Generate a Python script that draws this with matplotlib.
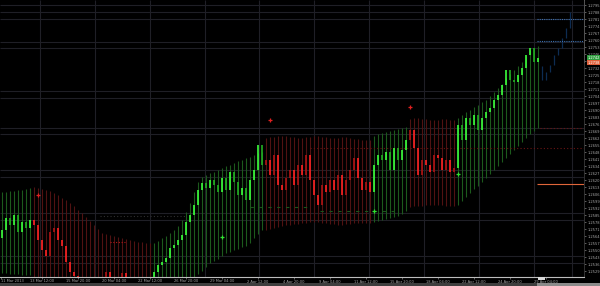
import numpy as np
import matplotlib.pyplot as plt
from matplotlib.patches import Rectangle

# closing prices, one per bar
closes = [
    1.2570, 1.2582, 1.2575, 1.2585, 1.2568, 1.2578, 1.2572, 1.2580,
    1.2575, 1.2560, 1.2550, 1.2544, 1.2568, 1.2572, 1.2560, 1.2554, 1.2538, 1.2528,
    1.2524, 1.2520, 1.2515, 1.2510, 1.2512, 1.2508, 1.2515, 1.2510, 1.2528, 1.2522,
    1.2512, 1.2518, 1.2527, 1.2520, 1.2510, 1.2505, 1.2510, 1.2505, 1.2512, 1.2520,
    1.2528, 1.2535, 1.2538, 1.2542, 1.2552, 1.2555, 1.2560, 1.2565, 1.2578, 1.2585,
    1.2595, 1.2610, 1.2617, 1.2612, 1.2620, 1.2615, 1.2608, 1.2622, 1.2610, 1.2628,
    1.2618, 1.2605, 1.2612, 1.2600, 1.2620, 1.2630, 1.2655, 1.2635,
    1.2640, 1.2625, 1.2645, 1.2615, 1.2610, 1.2622, 1.2630, 1.2615, 1.2635, 1.2625,
    1.2645, 1.2620, 1.2605, 1.2595, 1.2615, 1.2608, 1.2620, 1.2610, 1.2625, 1.2605,
    1.2620, 1.2630, 1.2642, 1.2622, 1.2610, 1.2618, 1.2608,
    1.2635, 1.2645, 1.2640, 1.2648, 1.2630, 1.2652, 1.2640, 1.2650, 1.2660,
    1.2670, 1.2652, 1.2625, 1.2640, 1.2635, 1.2628, 1.2645, 1.2642, 1.2630, 1.2640,
    1.2628, 1.2632,
    1.2675, 1.2660, 1.2682, 1.2675, 1.2685, 1.2670, 1.2682, 1.2688, 1.2692, 1.2700,
    1.2705, 1.2715, 1.2730, 1.2720, 1.2718, 1.2725, 1.2732, 1.2745, 1.2752, 1.2738,
    1.2742,
]
first_open = 1.2562

# trend channel, upper and lower edge per bar
band_top = [
    1.2608, 1.2608, 1.2609, 1.2609, 1.2610, 1.2610, 1.2611, 1.2612,
    1.2613, 1.2612, 1.2611, 1.2610, 1.2609, 1.2607, 1.2605, 1.2602, 1.2600, 1.2597,
    1.2594, 1.2590, 1.2587, 1.2583, 1.2579, 1.2575, 1.2571, 1.2567, 1.2566, 1.2565,
    1.2564, 1.2563, 1.2562, 1.2561, 1.2560, 1.2559, 1.2558, 1.2558, 1.2557, 1.2557,
    1.2557, 1.2559, 1.2562, 1.2564, 1.2567, 1.2570, 1.2574, 1.2580, 1.2588, 1.2597,
    1.2608, 1.2618, 1.2623, 1.2625, 1.2627, 1.2628, 1.2630, 1.2632, 1.2634, 1.2635,
    1.2637, 1.2639, 1.2640, 1.2642, 1.2643, 1.2645, 1.2647, 1.2648,
    1.2662, 1.2663, 1.2663, 1.2664, 1.2664, 1.2664, 1.2663, 1.2663, 1.2662, 1.2662,
    1.2663, 1.2663, 1.2664, 1.2664, 1.2663, 1.2663, 1.2662, 1.2662, 1.2662, 1.2663,
    1.2663, 1.2662, 1.2661, 1.2661, 1.2660, 1.2660, 1.2660,
    1.2664, 1.2666, 1.2667, 1.2668, 1.2669, 1.2670, 1.2671, 1.2672, 1.2673,
    1.2681, 1.2682, 1.2682, 1.2681, 1.2681, 1.2680, 1.2680, 1.2680, 1.2681, 1.2681,
    1.2680, 1.2680,
    1.2682, 1.2685, 1.2688, 1.2690, 1.2693, 1.2695, 1.2698, 1.2700, 1.2704, 1.2708,
    1.2712, 1.2716, 1.2722, 1.2726, 1.2730, 1.2734, 1.2738, 1.2744, 1.2750, 1.2752,
    1.2754,
]
band_bottom = [
    1.2527, 1.2527, 1.2526, 1.2526, 1.2526, 1.2525, 1.2525, 1.2525,
    1.2480, 1.2480, 1.2480, 1.2480, 1.2480, 1.2480, 1.2480, 1.2480, 1.2480, 1.2480,
    1.2480, 1.2480, 1.2480, 1.2480, 1.2480, 1.2480, 1.2480, 1.2480, 1.2480, 1.2480,
    1.2480, 1.2480, 1.2480, 1.2480, 1.2480, 1.2480, 1.2480, 1.2480, 1.2480, 1.2480,
    1.2500, 1.2502, 1.2505, 1.2508, 1.2510, 1.2513, 1.2515, 1.2517, 1.2519, 1.2521,
    1.2523, 1.2526, 1.2529, 1.2533, 1.2537, 1.2539, 1.2541, 1.2544, 1.2547, 1.2548,
    1.2550, 1.2551, 1.2553, 1.2554, 1.2557, 1.2562, 1.2566, 1.2570,
    1.2570, 1.2571, 1.2572, 1.2573, 1.2574, 1.2575, 1.2575, 1.2576, 1.2576, 1.2577,
    1.2577, 1.2578, 1.2578, 1.2578, 1.2577, 1.2577, 1.2576, 1.2576, 1.2575, 1.2575,
    1.2576, 1.2576, 1.2577, 1.2577, 1.2577, 1.2577, 1.2577,
    1.2578, 1.2579, 1.2580, 1.2581, 1.2582, 1.2583, 1.2584, 1.2586, 1.2589,
    1.2593, 1.2594, 1.2594, 1.2594, 1.2595, 1.2595, 1.2595, 1.2595, 1.2595, 1.2594,
    1.2594, 1.2594,
    1.2595, 1.2599, 1.2603, 1.2607, 1.2611, 1.2614, 1.2618, 1.2622, 1.2626, 1.2630,
    1.2634, 1.2638, 1.2642, 1.2646, 1.2650, 1.2654, 1.2658, 1.2662, 1.2666, 1.2669,
    1.2672,
]
# bars per trend leg, first leg is up
run_lengths = [8, 30, 28, 27, 9, 12, 21]

# projected bars after the last one
forecast = [1.2720, 1.2728, 1.2735, 1.2745, 1.2752, 1.2762, 1.2772, 1.2788]

# signal crosses (bar, price)
sell_bars = [9, 67, 102]
sell_prices = [1.2605, 1.2680, 1.2693]
buy_bars = [55, 93, 114]
buy_prices = [1.2563, 1.2589, 1.2626]

# horizontal levels: price, first bar, last bar
level_prices = [1.2558, 1.2584, 1.2593, 1.2589, 1.2652, 1.2672, 1.2616, 1.2781, 1.2759]
level_from = [27, 24.5, 62, 79.5, 77, 134.5, 133.75, 133.75, 133.75]
level_to = [31, 46, 77, 99.5, 145.5, 145.5, 145.5, 145.5, 145.5]
level_colors = ['#b01818', '#303030', '#1c561c', '#1c561c', '#6a1414',
                '#6a1414', '#e0663a', '#3c6fae', '#3c6fae']
level_styles = [(0, (1, 1.5)), (0, (1, 2)), (0, (3, 5)), (0, (3, 5)), (0, (1, 2)),
                (0, (1, 2)), '-', (0, (1, 1)), (0, (1, 1))]

date_labels = ['11 Mar 2013', '13 Mar 12:00', '15 Mar 20:00', '20 Mar 04:00',
               '22 Mar 12:00', '26 Mar 20:00', '29 Mar 04:00', '2 Apr 12:00',
               '4 Apr 20:00', '9 Apr 04:00', '11 Apr 12:00', '15 Apr 20:00',
               '18 Apr 04:00', '22 Apr 12:00', '24 Apr 20:00', '29 Apr 04:00']
date_ticks = [-0.3, 10, 19, 28, 37, 46, 55, 64, 73, 82, 91, 100, 109, 118, 127, 136]

# grid lines of the terminal
grid_bars = [9.5, 23.25, 37, 50.75, 64.25, 78, 91.75, 105.5, 119.25, 133, 142.5]
grid_prices = [1.2795, 1.2788, 1.2781, 1.2758, 1.2752, 1.2709, 1.2702, 1.2672,
               1.2666, 1.2630, 1.2623, 1.2587, 1.2580, 1.2544, 1.2537]

n = len(closes)
x = np.arange(n)
trend = np.concatenate([np.full(k, 1 if j % 2 == 0 else -1) for j, k in enumerate(run_lengths)])
opens = [first_open] + closes[:-1]

fig = plt.figure(figsize=(6, 2.86), dpi=100, facecolor='black')
ax = fig.add_axes([0, 9 / 286, 584 / 600, 277 / 286])
ax.set_facecolor('black')
ax.set_xlim(-0.5, 145.5)
ax.set_ylim(1.2523, 1.2800)

ax.vlines(grid_bars, 1.2523, 1.2800, colors='#1f1f26', lw=0.8, zorder=0)
ax.hlines(grid_prices, -0.5, 145.5, colors='#1f1f26', lw=0.8, zorder=0)

band_colors = np.where(trend > 0, '#1c5a1c', '#501212')
ax.vlines(x, band_bottom, band_top, colors=band_colors, lw=0.8, zorder=1)

candle_colors = []
for o, c, t in zip(opens, closes, trend):
    if t > 0:
        candle_colors.append('#3cff3c' if c >= o else '#22b022')
    else:
        candle_colors.append('#b01414' if c >= o else '#ff2424')
ax.vlines(x, opens, closes, colors=candle_colors, lw=1.2, zorder=3)

fx = np.arange(n, n + len(forecast))
ax.vlines(fx, [closes[-1] - 0.0008] + forecast[:-1], forecast, colors='#0d2c52', lw=0.9, zorder=2)

for p, a, b, col, ls in zip(level_prices, level_from, level_to, level_colors, level_styles):
    ax.hlines(p, a, b, colors=col, linestyles=ls, lw=0.8, zorder=2)

ax.plot(sell_bars, sell_prices, '+', color='#e02020', ms=3, mew=0.9, zorder=4)
ax.plot(buy_bars, buy_prices, '+', color='#30e030', ms=3, mew=0.9, zorder=4)

# axes and labels
for side in ['top', 'left']:
    ax.spines[side].set_visible(False)
ax.spines['bottom'].set_color('#bdbdbd')
ax.spines['bottom'].set_linewidth(0.8)
ax.spines['right'].set_color('#3a3a3a')
ax.spines['right'].set_linewidth(0.6)
ax.plot([1, 1], [1, 1 - 62 / 277], color='#d0d0d0', lw=0.7, transform=ax.transAxes, clip_on=False)

ax.yaxis.tick_right()
yt = np.arange(1.2529, 1.2800, 0.0007)
ax.set_yticks(yt)
ax.set_yticklabels(['%.4f' % v for v in yt])
ax.tick_params(axis='y', labelsize=2.6, colors='#a5a5a5', length=1.5, width=0.4, pad=0.8)

ax.set_xticks(date_ticks)
ax.set_xticklabels(date_labels)
ax.tick_params(axis='x', labelsize=2.6, colors='#a5a5a5', length=1.2, width=0.4, pad=0.6)
ax.get_xticklabels()[0].set_horizontalalignment('left')

# current bid / ask boxes on the price scale
fig.text(0.9995, 1 - 58 / 286, '%.4f' % closes[-1], fontsize=2.6, color='white', ha='right', va='center',
         bbox=dict(boxstyle='square,pad=0.15', fc='#2e9e3e', ec='none'))
fig.text(0.9995, 1 - 62.5 / 286, '%.4f' % (closes[-1] - 0.0004), fontsize=2.6, color='white', ha='right',
         va='center', bbox=dict(boxstyle='square,pad=0.15', fc='#e0603a', ec='none'))

# scroll bar strip at the bottom
fig.patches.append(Rectangle((0, 0), 1, 3.5 / 286, transform=fig.transFigure, fc='#3e3e3e', ec='none'))
fig.patches.append(Rectangle((537 / 600, 0), 63 / 600, 3.5 / 286, transform=fig.transFigure, fc='#8a8a8a', ec='none'))
fig.patches.append(Rectangle((538 / 600, 6 / 286), 7 / 600, 3 / 286, transform=fig.transFigure, fc='#d8d8d8', ec='none'))

plt.savefig('out.png', dpi=100, facecolor='black')
